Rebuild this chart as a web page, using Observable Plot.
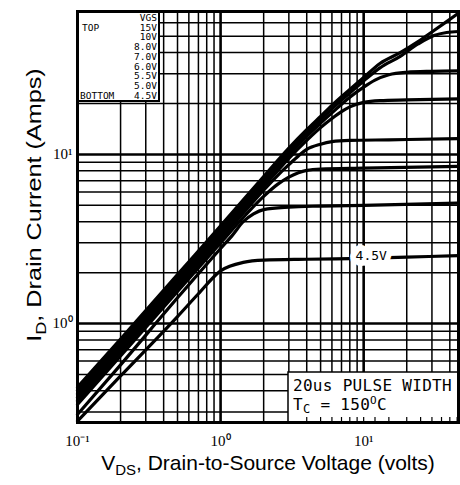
<!DOCTYPE html>
<html><head><meta charset="utf-8">
<script src="https://cdn.jsdelivr.net/npm/d3@7"></script>
<script src="https://cdn.jsdelivr.net/npm/@observablehq/plot@0.6"></script>
<style>
body{margin:0;background:#fff}
#chart{width:460px;height:485px}
</style>
</head><body><div id="chart"></div>
<script>
// ---- data (VDS in volts, ID in amps) ----
const vgsLabels = ["15V","10V","8.0V","7.0V","6.0V","5.5V","5.0V","4.5V"];
const vds_15V = [0.1,0.2,0.5,1,2,3,4,5,6,8,10,13,18,24,31,38,46];
const id_15V  = [0.42,0.81,1.95,3.78,7.4,10.9,14,16.8,19.5,24.2,28.5,34.5,40,46.5,54,61,68.5];
const vds_10V = [0.1,0.2,0.5,1,2,3,4,5,6,8,10,13,18,24,31,38,46];
const id_10V  = [0.401,0.774,1.86,3.61,7.07,10.4,13.4,16.0,18.6,23.1,27.2,32.5,38,45,50.5,52.6,53.3];
const vds_8V  = [0.1,0.2,0.5,1,2,3,4,5,6,8,10,12,15,20,30,46];
const id_8V   = [0.383,0.739,1.78,3.45,6.75,9.94,12.8,15.3,17.6,21.8,25,27.5,29.6,30.6,31,31.2];
const vds_7V  = [0.1,0.2,0.5,1,2,3,4,5,6,7,8,10,13,20,46];
const id_7V   = [0.366,0.706,1.70,3.29,6.45,9.49,12.1,14.4,16.3,17.9,19.1,20.3,20.8,21,21.3];
const vds_6V  = [0.1,0.2,0.5,1,2,2.5,3,3.5,4,5,6,8,15,46];
const id_6V   = [0.349,0.674,1.62,3.14,6.15,7.5,8.7,9.8,10.7,11.5,11.9,12.1,12.2,12.4];
const vds_55V = [0.1,0.2,0.5,1,1.5,2,2.5,3,3.5,4,5,10,46];
const id_55V  = [0.333,0.643,1.55,3.0,4.4,5.65,6.65,7.35,7.8,8.05,8.2,8.3,8.5];
const vds_5V  = [0.1,0.2,0.5,1,1.2,1.44,1.7,2,3,5,10,46];
const id_5V   = [0.29,0.57,1.42,2.78,3.3,4.0,4.45,4.72,4.88,4.95,5.0,5.15];
const vds_45V = [0.1,0.2,0.5,0.7,1,1.44,2,4,10,20,46];
const id_45V  = [0.265,0.49,1.1,1.5,2.05,2.3,2.37,2.4,2.43,2.47,2.52];

const seriesV = [vds_15V,vds_10V,vds_8V,vds_7V,vds_6V,vds_55V,vds_5V,vds_45V];
const seriesI = [id_15V,id_10V,id_8V,id_7V,id_6V,id_55V,id_5V,id_45V];

// axes
const xDomain = [0.1, 46];
const yDomain = [0.26, 70];
const xMajor = [1, 10];
const xMinor = [0.2,0.3,0.4,0.5,0.6,0.7,0.8,0.9,2,3,4,5,6,7,8,9,20,30,40];
const yMajor = [1, 10];
const yMinor = [0.3,0.4,0.5,0.6,0.7,0.8,0.9,2,3,4,5,6,7,8,9,20,30,40,50,60];
const xTickLabels = [0.1, 1, 10];
const yTickLabels = [1, 10];
const xFineTicks = [4,5,6,7,8,9,10,12,15,20,25,30,35,40,45];
const tickText = {0.1: "10\u207B\u00B9", 1: "10\u2070", 10: "10\u00B9"};

// labels
const curveLabel = [{vds: 11.3, id: 2.45, text: "4.5V"}];
const legendRows = ["VGS","15V","10V","8.0V","7.0V","6.0V","5.5V","5.0V","4.5V"];

const rows = [];
seriesV.forEach((vs, k) => vs.forEach((v, j) => rows.push({vgs: vgsLabels[k], vds: v, id: seriesI[k][j]})));

const W = 460, H = 485, mL = 77, mR = 2, mT = 11, mB = 63;

const plot = Plot.plot({
  width: W, height: H,
  marginLeft: mL, marginRight: mR, marginTop: mT, marginBottom: mB,
  x: {type: "log", domain: xDomain},
  y: {type: "log", domain: yDomain},
  style: {background: "white", fontFamily: "'Liberation Serif', serif", fontSize: "15px", color: "black"},
  marks: [
    Plot.ruleX(xMinor, {stroke: "black", strokeWidth: 1.5}),
    Plot.ruleY(yMinor, {stroke: "black", strokeWidth: 1.5}),
    Plot.ruleX(xMajor, {stroke: "black", strokeWidth: 2.6}),
    Plot.ruleY(yMajor, {stroke: "black", strokeWidth: 2.6}),
    Plot.axisX(xFineTicks, {tickSize: -5, tickFormat: () => "", label: null, strokeWidth: 1.2}),
    Plot.axisX(xTickLabels, {tickSize: 0, tickPadding: 13, tickFormat: d => tickText[d], label: null, fontSize: 15}),
    Plot.axisY(yTickLabels, {tickSize: 0, tickPadding: 5, tickFormat: d => tickText[d], label: null, fontSize: 15}),
    Plot.line(rows, {x: "vds", y: "id", z: "vgs", stroke: "black", strokeWidth: 3.2, curve: "monotone-x"}),
    Plot.text(curveLabel, {x: "vds", y: "id", text: "text", fill: "black", stroke: "white", strokeWidth: 12,
      fontFamily: "'DejaVu Sans Mono', monospace", fontSize: 13, dy: -2}),
    Plot.frame({stroke: "black", strokeWidth: 3})
  ]
});
document.getElementById("chart").appendChild(plot);

const svg = d3.select(plot);
const mono = "'DejaVu Sans Mono', monospace";

// insert the boxes just above the grid rules, below ticks and curves
const kids = Array.from(plot.children);
let lastRule = -1;
kids.forEach((n, i) => { if (n.getAttribute && n.getAttribute("aria-label") === "rule") lastRule = i; });
const before = kids[lastRule + 1] || null;
const boxes = d3.create("svg:g").attr("text-anchor", "start").node();
plot.insertBefore(boxes, before);
const bg = d3.select(boxes);

// legend box (top-left corner of the frame)
bg.append("rect").attr("x", mL).attr("y", mT).attr("width", 82).attr("height", 90)
  .attr("fill", "white").attr("stroke", "black").attr("stroke-width", 2);
legendRows.forEach((t, i) => {
  bg.append("text").attr("x", mL + 80).attr("y", mT + 10 + i * 9.7)
    .attr("text-anchor", "end").attr("font-family", mono).attr("font-size", 9.5).text(t);
});
bg.append("text").attr("x", mL + 5).attr("y", mT + 19.7).attr("font-family", mono).attr("font-size", 9.5).text("TOP");
bg.append("text").attr("x", mL + 3).attr("y", mT + 87.6).attr("font-family", mono).attr("font-size", 9.5).text("BOTTOM");

// annotation box (bottom-right corner of the frame)
const bx = W - mR - 170, by = H - mB - 50;
bg.append("rect").attr("x", bx).attr("y", by).attr("width", 170).attr("height", 50)
  .attr("fill", "white").attr("stroke", "black").attr("stroke-width", 1.5);
bg.append("text").attr("x", bx + 5).attr("y", by + 19).attr("font-family", mono).attr("font-size", 16)
  .attr("letter-spacing", 0.3).text("20us PULSE WIDTH");
const t2 = bg.append("text").attr("x", bx + 5).attr("y", by + 38).attr("font-family", mono).attr("font-size", 16).attr("letter-spacing", 0.3);
t2.append("tspan").text("T");
t2.append("tspan").attr("font-size", 12).attr("dy", 3).text("C");
t2.append("tspan").attr("dy", -3).text(" = 150");
t2.append("tspan").attr("font-size", 11).attr("dy", -6).text("O");
t2.append("tspan").attr("dy", 6).text("C");

// axis titles
const sans = "'Liberation Sans', Arial, sans-serif";
const xl = svg.append("text").attr("x", 268).attr("y", 470).attr("text-anchor", "middle")
  .attr("font-family", sans).attr("font-size", 21);
xl.append("tspan").text("V");
xl.append("tspan").attr("font-size", 15).attr("dy", 5).text("DS");
xl.append("tspan").attr("dy", -5).text(", Drain-to-Source Voltage (volts)");

const yl = svg.append("text").attr("transform", "translate(41,205) rotate(-90) scale(1.2,1)")
  .attr("text-anchor", "middle").attr("font-family", sans).attr("font-size", 21);
yl.append("tspan").text("I");
yl.append("tspan").attr("font-size", 15).attr("dy", 5).text("D");
yl.append("tspan").attr("dy", -5).text(", Drain Current (Amps)");
</script>
</body></html>
